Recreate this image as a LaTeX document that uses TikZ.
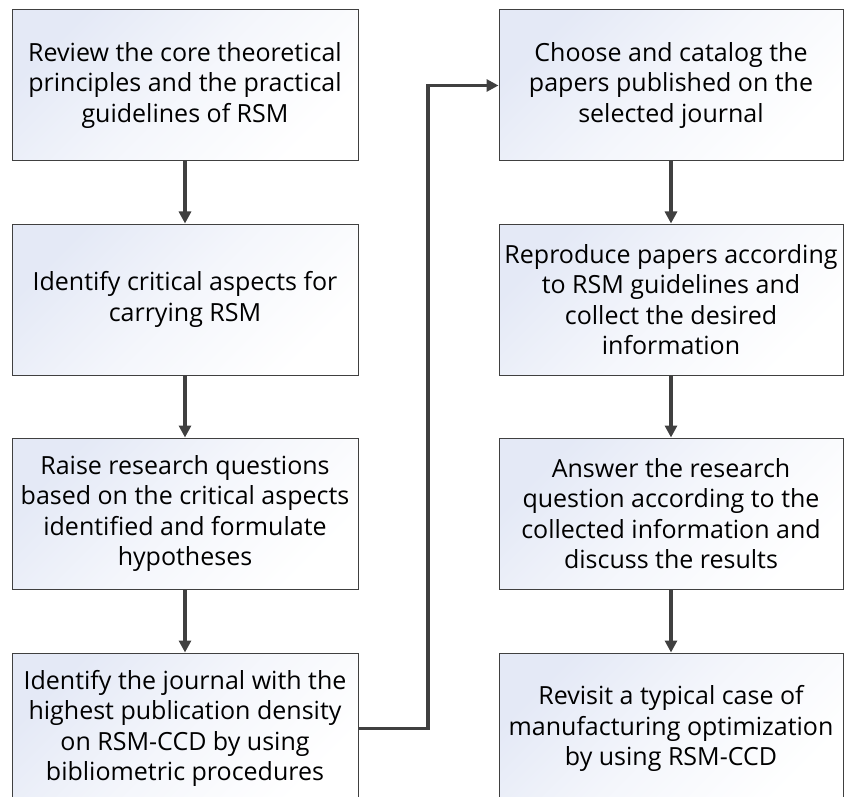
\documentclass[tikz,border=0pt]{standalone}
\usepackage{fontspec}
\setmainfont{Open Sans}
\usetikzlibrary{arrows.meta}
\definecolor{edge}{HTML}{404040}
\definecolor{tint}{HTML}{E4E9F6}
\begin{document}
\begin{tikzpicture}[x=1pt,y=-1pt,
  stepbox/.style={draw=edge, line width=1pt, top color=tint, bottom color=white,
    middle color=white!60!tint, shading angle=45, minimum height=151pt,
    align=center, inner sep=0pt, font=\fontsize{25}{30.5}\selectfont},
  leftbox/.style={stepbox, minimum width=346pt},
  rightbox/.style={stepbox, minimum width=344pt},
  flow/.style={draw=edge, line width=3.3pt, -{Triangle[length=12pt,width=12pt]}}]
\useasboundingbox (0,0) rectangle (844,797);
\clip (0,0) rectangle (844,797);

% left column
\node[leftbox] (a1) at (185,85.5) {Review the core theoretical\\principles and the practical\\guidelines of RSM};
\node[leftbox] (a2) at (185,299.5) {Identify critical aspects for\\carrying RSM};
\node[leftbox] (a3) at (185,513.5) {Raise research questions\\based on the critical aspects\\identified and formulate\\hypotheses};
\node[leftbox] (a4) at (185,728.5) {Identify the journal with the\\highest publication density\\on RSM-CCD by using\\bibliometric procedures};

% right column
\node[rightbox] (b1) at (671,85.5) {Choose and catalog the\\papers published on the\\selected journal};
\node[rightbox] (b2) at (671,299.5) {Reproduce papers according\\to RSM guidelines and\\collect the desired\\information};
\node[rightbox] (b3) at (671,513.5) {Answer the research\\question according to the\\collected information and\\discuss the results};
\node[rightbox] (b4) at (671,728.5) {Revisit a typical case of\\manufacturing optimization\\by using RSM-CCD};

% connectors
\draw[flow] (a1) -- (a2);
\draw[flow] (a2) -- (a3);
\draw[flow] (a3) -- (a4);
\coordinate (turn) at (428,728.5);
\draw[flow] (a4.east) -- (turn) |- (b1.west);
\draw[flow] (b1) -- (b2);
\draw[flow] (b2) -- (b3);
\draw[flow] (b3) -- (b4);
\end{tikzpicture}
\end{document}
